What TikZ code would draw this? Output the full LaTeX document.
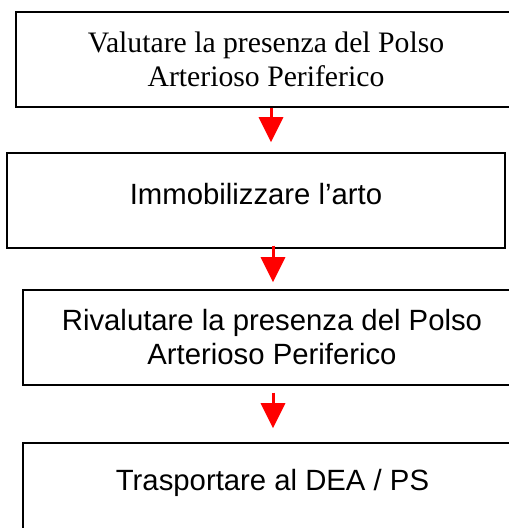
\documentclass[tikz,border=0pt]{standalone}
\usepackage{fontspec}
\setmainfont{Liberation Serif}
\setsansfont{Liberation Sans}
\usepackage{tikz}
\usetikzlibrary{arrows.meta,positioning}

\begin{document}
\begin{tikzpicture}[
  x=1pt, y=1pt,
  box/.style={rectangle, draw, line width=1.5pt, minimum width=498pt, minimum height=95pt, align=center, font=\sffamily\fontsize{29.3}{34}\selectfont},
  arrow/.style={-{Triangle[width=24pt,length=25pt]}, line width=3pt, red}
]
\useasboundingbox (0,0) rectangle (509,528);
\clip (0,0) rectangle (509,528);

% Steps
\node[box, minimum width=500pt, font=\rmfamily\fontsize{29.7}{34}\selectfont] (valuta) at (266,468.5) {Valutare la presenza del Polso\\Arterioso Periferico};
\node[box, text depth=13pt] (immob) at (256,327.5) {Immobilizzare l'arto};
\node[box] (rivaluta) at (272,190.5) {Rivalutare la presenza del Polso\\Arterioso Periferico};
\node[box, minimum width=499pt, text depth=22pt] (trasporto) at (272.5,37.5) {Trasportare al DEA / PS};

% Arrows
\draw[arrow] ([xshift=5pt]valuta.south) -- ([xshift=15pt,yshift=10pt]immob.north);
\draw[arrow] ([xshift=17pt,yshift=3pt]immob.south) -- ([xshift=1pt,yshift=7pt]rivaluta.north);
\draw[arrow] ([xshift=1pt,yshift=-7pt]rivaluta.south) -- ([xshift=0.5pt,yshift=14pt]trasporto.north);

\end{tikzpicture}
\end{document}
